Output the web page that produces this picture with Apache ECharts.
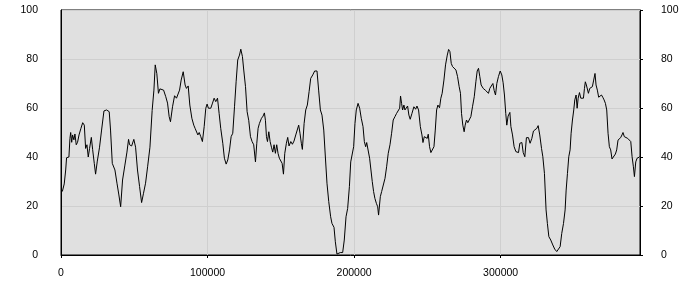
<!DOCTYPE html>
<html>
<head>
<meta charset="utf-8">
<script src="https://cdn.jsdelivr.net/npm/echarts@6/dist/echarts.min.js"></script>
<style>html,body{margin:0;padding:0;background:#fff}#c{width:700px;height:300px}</style>
</head>
<body>
<div id="c"></div>
<script>
var xValues = [900,2200,3200,3800,5400,6100,6600,7300,7900,8800,9500,10400,11300,12300,13600,14800,15900,16800,17700,18600,19500,20700,21600,22700,23600,24700,26300,27700,29300,31100,32900,33800,35000,36100,36800,38200,39500,40700,42000,43600,45000,46100,46800,48200,48800,49700,50900,52200,53600,55000,56300,57700,59100,60700,62200,63400,64300,
65400,66500,67500,68800,70000,71500,72700,73800,74700,76100,77500,78800,79700,80900,82000,83400,84700,85600,86800,87900,89300,90600,91500,92500,93400,94300,95400,96500,97700,98800,99700,100600,102200,103400,104500,105600,106800,107900,109000,110400,111500,112700,113800,115000,116100,117200,118400,119500,120600,121800,122700,123800,124700,125900,127000,128100,129300,130400,
131500,132700,133600,134500,135400,136800,137900,138800,139500,140200,140900,141800,142700,143600,144500,145400,146300,147200,148100,149000,149900,150900,151800,152700,153800,154700,155600,156800,157900,159000,160200,161100,162200,163100,164000,164700,165900,167000,168100,169300,170400,171800,173100,174700,175800,177000,178100,179300,180400,181500,182700,184000,184900,186300,187200,188300,189500,190600,192200,193300,194500,195600,196800,
197700,198800,199700,200600,201500,202700,203800,204900,206100,207000,207900,208600,209500,210600,211500,212400,213300,214200,215200,216100,216700,217900,218800,219900,221100,222200,223300,224500,225600,226700,227900,229000,230200,231100,231700,232400,233100,234000,234700,235600,236500,237400,238300,239500,240800,242000,242900,244000,245200,246300,247000,247900,249000,249900,250600,251500,252400,253300,254500,255400,256300,257200,258300,259200,260100,261300,262400,
263600,264500,265400,266300,267200,268300,269500,270600,271700,272600,273300,274200,275100,275800,276700,277600,278600,279700,280800,282000,283100,284000,284900,285800,286700,288100,289500,290800,291700,292600,293800,294700,295600,296500,297400,298500,299700,300800,301700,302600,303500,304200,305100,306300,307000,308100,309200,310400,311300,312200,313100,314500,315400,316500,317600,319000,320100,321300,322400,323500,324700,325600,326700,327900,
328800,329900,331000,331900,332900,334200,335600,336900,338300,339400,340600,341700,342900,344000,344700,345600,346500,347400,348100,349000,349900,350600,351500,352200,352900,353800,354700,355600,356500,357200,357800,358500,359200,359900,360800,361700,362600,363500,364400,365100,366000,366900,367800,368800,369700,370600,371500,372400,373300,374200,375100,376000,377200,378300,379200,380100,381000,381900,382800,383500,384400,385600,386700,387800,388800,389700,390600,391300,392200,393100,394200,395100];

var yValues = [25.9,29,34.7,39.7,40,47.6,50,46,49,47,49.4,45,46,49,51.7,54,53,43.5,45,40,43.5,48,43,37.4,33,38,44,51,58.8,59.2,58.5,51,37.4,36.7,34.7,29.3,24.5,19.7,30.6,36.7,42,47.2,45,44.5,43.8,47.2,44,34.7,28,21.4,25.2,29.3,36,44,59,67.3,77.6,
74,66,67.8,68,67.3,64.6,62,56.5,54.4,60.5,65,64,63.5,67.3,71.4,74.8,69.4,68,69,61.2,55.8,53,51.7,52.4,49,50,48.3,46.3,52.4,59.9,61.6,59.9,59.9,62,64,62.6,64,57.8,51.7,45.6,39.5,37.1,38.8,42.9,48.3,49.7,60.5,70.7,79.6,81.6,84,81,75.5,68.7,58.5,55,48.3,46.3,
45,38,45.6,51.7,53.7,55.8,56.7,58,55,48.3,46.3,50.3,46.3,44,42,45,41.5,45,41.5,39.5,40,37.4,33,41.5,45.6,48,44.5,46.3,45.2,46.5,49,48.3,53,49.7,45.6,43.1,53.7,59.2,61.2,66.7,72.1,73.5,75.1,75.1,67.3,59.2,57.1,51,40,29.3,21.8,15.6,12.9,11.3,5.4,0.4,0.3,1,1,6.1,15.6,19,27.9,
38,38,44.2,53.7,59.2,61.9,59.9,55.8,52.4,46.3,44.2,45.9,45.2,39.5,34.7,30,25.9,23.1,21.1,19.7,16.3,23.8,25.9,25.9,31.3,36,41.5,45,49.7,55.1,56.5,57.8,58.5,59.9,64.9,61.9,59.2,61.2,59.2,59.2,60.8,57.1,55.4,57.8,60.5,59.5,60.8,59.2,52.4,49,45.9,48.3,49,47.6,49.3,44.2,41.8,41.2,44.2,51,59.2,61.2,60.1,64,66,71.4,77.6,
81.6,83.9,83,78.2,76.9,76.6,75.5,72.8,68.7,66,57.8,53,50.3,53,55.1,54,54.4,56.5,60.5,64.6,70.7,75.1,76.2,72.8,69.4,68,67.3,66.7,66,68,68,70,67.1,65.3,70,72.8,75.1,73.5,70.3,65.3,57.8,53,56.7,58.2,52.4,49,44.2,42.2,42.9,41.8,45.6,45.9,41.8,40.1,47.9,47.9,45.6,47.6,50.6,50.3,51.7,52.8,49,43.5,
40.1,33.3,18.4,12.9,7.5,6.1,4.1,2.4,1.4,1.4,3.4,8.8,12.9,18.4,26.5,33.3,40.1,42.9,49.7,55.1,59.2,63.3,65.3,59.9,64,66.3,64,64,64,68,70.7,69.4,68.7,66,68,67.3,68.7,71.4,74.1,69.4,67.3,64.4,64.4,65.3,64.4,63.3,61.9,59.2,49.7,44.2,42.9,39.2,39.2,41.2,42.9,46.9,46.3,47.9,49,50,48.3,47.9,47.6,47.9,46.3,40.1,36,32,38,39.5,39.7,40.1];

var xTicks = [0, 100000, 200000, 300000];
var yMin = 0, yMax = 100, yStep = 20;
var xMax = 395100;

var data = xValues.map(function (x, i) { return [x, yValues[i]]; });

var font = 'Liberation Sans';
var chart = echarts.init(document.getElementById('c'), null, {renderer: 'canvas'});
chart.setOption({
  animation: false,
  backgroundColor: '#ffffff',
  grid: {left: 61, right: 60, top: 10, bottom: 45, show: true, backgroundColor: '#e0e0e0', borderColor: '#000', borderWidth: 1},
  xAxis: {
    type: 'value', min: 0, max: xMax, interval: 100000,
    axisLine: {show: true, onZero: false, lineStyle: {color: '#000', width: 1}},
    axisTick: {show: true, length: 3, customValues: xTicks, lineStyle: {color: '#000'}},
    axisLabel: {customValues: xTicks, color: '#000', fontFamily: font, fontSize: 10.5, margin: 13,
      formatter: function (v) { return String(v); }},
    splitLine: {show: true, lineStyle: {color: '#cfcfcf', width: 1}}
  },
  yAxis: [
    {type: 'value', min: yMin, max: yMax, interval: yStep, position: 'left',
     axisLine: {show: true, lineStyle: {color: '#000'}},
     axisTick: {show: false},
     axisLabel: {color: '#000', fontFamily: font, fontSize: 10.5, margin: 23},
     splitLine: {show: true, lineStyle: {color: '#cfcfcf', width: 1}}},
    {type: 'value', min: yMin, max: yMax, interval: yStep, position: 'right',
     axisLine: {show: true, lineStyle: {color: '#000'}},
     axisTick: {show: true, length: 3, lineStyle: {color: '#000'}},
     axisLabel: {color: '#000', fontFamily: font, fontSize: 10.5, margin: 21},
     splitLine: {show: false}}
  ],
  series: [{
    type: 'line', data: data, showSymbol: false, symbol: 'none',
    lineStyle: {color: '#000', width: 1}, clip: true
  }]
});
</script>
</body>
</html>
